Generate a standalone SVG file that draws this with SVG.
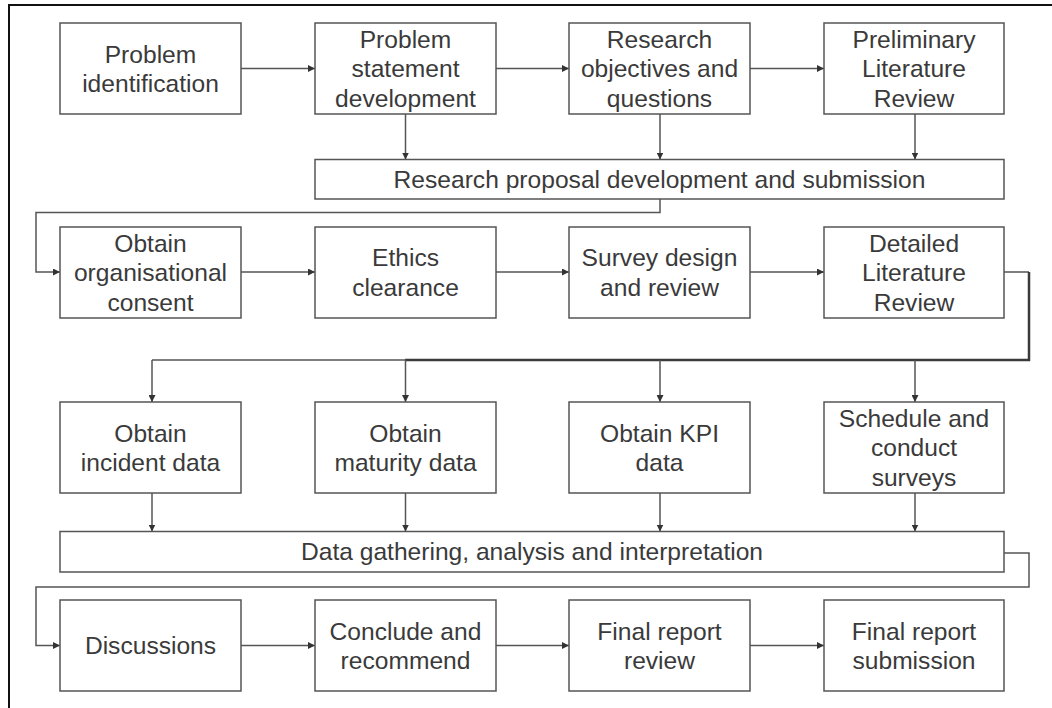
<svg xmlns="http://www.w3.org/2000/svg" width="1052" height="708" viewBox="0 0 1052 708">
  <defs>
    <marker id="arrow" viewBox="0 0 8 8" refX="8" refY="4" markerWidth="7" markerHeight="7" markerUnits="userSpaceOnUse" orient="auto">
      <path d="M0,0 L8,4 L0,8 Z" fill="#333"/>
    </marker>
    <style>
      .box { fill: #fff; stroke: #555; stroke-width: 1.5; }
      .lbl { font-family: "Liberation Sans", Arial, sans-serif; font-size: 24.6px; fill: #3a3a3a; text-anchor: middle; }
      .conn { fill: none; stroke: #555; stroke-width: 1.5; }
      .arr { marker-end: url(#arrow); }
      .bold { fill: none; stroke: #3a3a3a; stroke-width: 2.5; }
    </style>
  </defs>

  <rect width="1052" height="708" fill="#fff"/>
  <!-- frame -->
  <path d="M9,708 V5 H1052" fill="none" stroke="#111" stroke-width="2"/>

  <!-- connectors -->
  <g id="connectors">
    <!-- row 1 -->
    <line class="conn arr" x1="241" y1="68.5" x2="315" y2="68.5"/>
    <line class="conn arr" x1="496" y1="68.5" x2="569" y2="68.5"/>
    <line class="conn arr" x1="750" y1="68.5" x2="824" y2="68.5"/>
    <line class="conn arr" x1="405.5" y1="114" x2="405.5" y2="159.5"/>
    <line class="conn arr" x1="660" y1="114" x2="660" y2="159.5"/>
    <line class="conn arr" x1="915" y1="114" x2="915" y2="159.5"/>
    <!-- proposal to row 2 -->
    <path class="conn arr" d="M660,199 V212.5 H36 V272 H60"/>
    <!-- row 2 -->
    <line class="conn arr" x1="241" y1="272" x2="315" y2="272"/>
    <line class="conn arr" x1="496" y1="272" x2="569" y2="272"/>
    <line class="conn arr" x1="750" y1="272" x2="824" y2="272"/>
    <!-- detailed review fan-out -->
    <line class="conn" x1="1004" y1="272" x2="1029" y2="272"/>
    <path class="bold" d="M1029,272 V360 H405"/>
    <line class="conn" x1="406" y1="360" x2="152" y2="360"/>
    <line class="conn arr" x1="152" y1="360" x2="152" y2="402"/>
    <line class="conn arr" x1="405.5" y1="360" x2="405.5" y2="402"/>
    <line class="conn arr" x1="660" y1="360" x2="660" y2="402"/>
    <line class="conn arr" x1="915" y1="360" x2="915" y2="402"/>
    <!-- row 3 to data bar -->
    <line class="conn arr" x1="152" y1="493" x2="152" y2="531.5"/>
    <line class="conn arr" x1="405.5" y1="493" x2="405.5" y2="531.5"/>
    <line class="conn arr" x1="660" y1="493" x2="660" y2="531.5"/>
    <line class="conn arr" x1="915" y1="493" x2="915" y2="531.5"/>
    <!-- data bar to row 4 -->
    <path class="conn arr" d="M1004,553 H1029 V587 H36 V645.5 H60"/>
    <!-- row 4 -->
    <line class="conn arr" x1="241" y1="645.5" x2="315" y2="645.5"/>
    <line class="conn arr" x1="496" y1="645.5" x2="569" y2="645.5"/>
    <line class="conn arr" x1="750" y1="645.5" x2="824" y2="645.5"/>
  </g>

  <!-- row 1 -->
  <g id="problem-identification">
    <rect class="box" x="60" y="23" width="181" height="91"/>
    <text class="lbl" x="150.5" y="62.5">Problem</text>
    <text class="lbl" x="150.5" y="92">identification</text>
  </g>
  <g id="problem-statement">
    <rect class="box" x="315" y="23" width="181" height="91"/>
    <text class="lbl" x="405.5" y="47.5">Problem</text>
    <text class="lbl" x="405.5" y="77">statement</text>
    <text class="lbl" x="405.5" y="106.5">development</text>
  </g>
  <g id="research-objectives">
    <rect class="box" x="569" y="23" width="181" height="91"/>
    <text class="lbl" x="659.5" y="47.5">Research</text>
    <text class="lbl" x="659.5" y="77">objectives and</text>
    <text class="lbl" x="659.5" y="106.5">questions</text>
  </g>
  <g id="preliminary-review">
    <rect class="box" x="824" y="23" width="180" height="91"/>
    <text class="lbl" x="914" y="47.5">Preliminary</text>
    <text class="lbl" x="914" y="77">Literature</text>
    <text class="lbl" x="914" y="106.5">Review</text>
  </g>
  <g id="research-proposal">
    <rect class="box" x="315" y="159.5" width="689" height="39.5"/>
    <text class="lbl" x="659.5" y="187.5">Research proposal development and submission</text>
  </g>

  <!-- row 2 -->
  <g id="organisational-consent">
    <rect class="box" x="60" y="227" width="181" height="91"/>
    <text class="lbl" x="150.5" y="251.5">Obtain</text>
    <text class="lbl" x="150.5" y="281">organisational</text>
    <text class="lbl" x="150.5" y="310.5">consent</text>
  </g>
  <g id="ethics-clearance">
    <rect class="box" x="315" y="227" width="181" height="91"/>
    <text class="lbl" x="405.5" y="266">Ethics</text>
    <text class="lbl" x="405.5" y="295.5">clearance</text>
  </g>
  <g id="survey-design">
    <rect class="box" x="569" y="227" width="181" height="91"/>
    <text class="lbl" x="659.5" y="266">Survey design</text>
    <text class="lbl" x="659.5" y="295.5">and review</text>
  </g>
  <g id="detailed-review">
    <rect class="box" x="824" y="227" width="180" height="91"/>
    <text class="lbl" x="914" y="251.5">Detailed</text>
    <text class="lbl" x="914" y="281">Literature</text>
    <text class="lbl" x="914" y="310.5">Review</text>
  </g>

  <!-- row 3 -->
  <g id="incident-data">
    <rect class="box" x="60" y="402" width="181" height="91"/>
    <text class="lbl" x="150.5" y="441.5">Obtain</text>
    <text class="lbl" x="150.5" y="471">incident data</text>
  </g>
  <g id="maturity-data">
    <rect class="box" x="315" y="402" width="181" height="91"/>
    <text class="lbl" x="405.5" y="441.5">Obtain</text>
    <text class="lbl" x="405.5" y="471">maturity data</text>
  </g>
  <g id="kpi-data">
    <rect class="box" x="569" y="402" width="181" height="91"/>
    <text class="lbl" x="659.5" y="441.5">Obtain KPI</text>
    <text class="lbl" x="659.5" y="471">data</text>
  </g>
  <g id="surveys">
    <rect class="box" x="824" y="402" width="180" height="91"/>
    <text class="lbl" x="914" y="426.5">Schedule and</text>
    <text class="lbl" x="914" y="456">conduct</text>
    <text class="lbl" x="914" y="485.5">surveys</text>
  </g>
  <g id="data-analysis">
    <rect class="box" x="60" y="531.5" width="944" height="40.5"/>
    <text class="lbl" x="532" y="560">Data gathering, analysis and interpretation</text>
  </g>

  <!-- row 4 -->
  <g id="discussions">
    <rect class="box" x="60" y="600" width="181" height="91"/>
    <text class="lbl" x="150.5" y="654">Discussions</text>
  </g>
  <g id="conclude">
    <rect class="box" x="315" y="600" width="181" height="91"/>
    <text class="lbl" x="405.5" y="639.5">Conclude and</text>
    <text class="lbl" x="405.5" y="669">recommend</text>
  </g>
  <g id="final-review">
    <rect class="box" x="569" y="600" width="181" height="91"/>
    <text class="lbl" x="659.5" y="639.5">Final report</text>
    <text class="lbl" x="659.5" y="669">review</text>
  </g>
  <g id="final-submission">
    <rect class="box" x="824" y="600" width="180" height="91"/>
    <text class="lbl" x="914" y="639.5">Final report</text>
    <text class="lbl" x="914" y="669">submission</text>
  </g>
</svg>
